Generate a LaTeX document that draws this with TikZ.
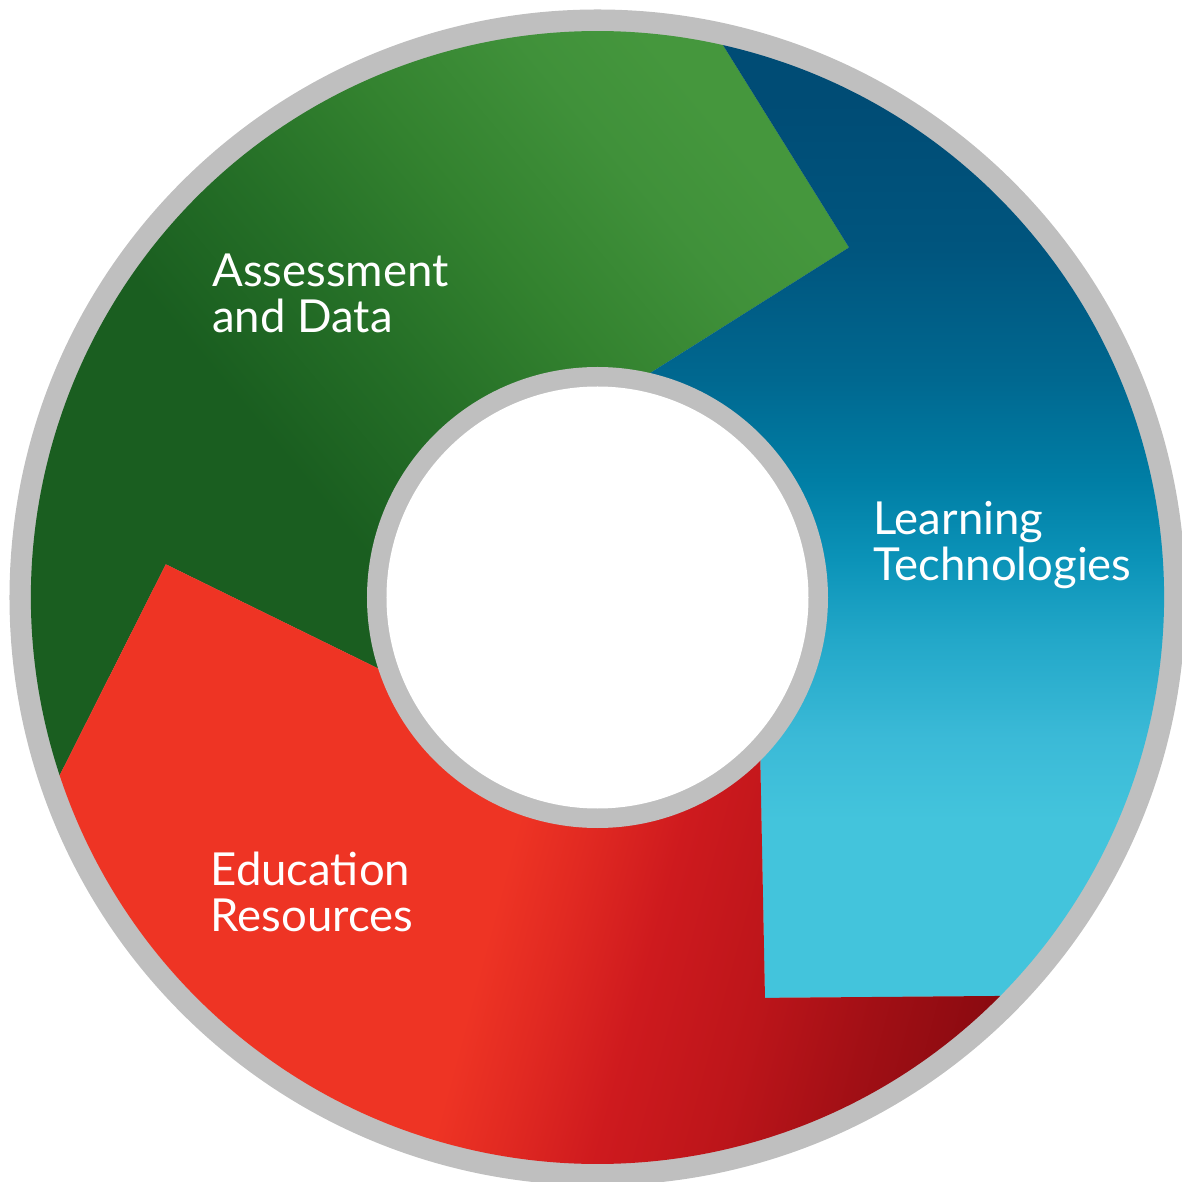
\documentclass[tikz,border=0pt]{standalone}
\usepackage{fontspec}
\setmainfont{Lato}

% palette
\definecolor{ringgray}{HTML}{BFBFBF}
\definecolor{gA}{HTML}{1A5E20}
\definecolor{gB}{HTML}{256F27}
\definecolor{gC}{HTML}{33822F}
\definecolor{gD}{HTML}{40913A}
\definecolor{gE}{HTML}{45973D}
\definecolor{bA}{HTML}{43C4DC}
\definecolor{bB}{HTML}{3BBAD7}
\definecolor{bC}{HTML}{23A8C9}
\definecolor{bD}{HTML}{0B93B8}
\definecolor{bE}{HTML}{007EA5}
\definecolor{bF}{HTML}{006890}
\definecolor{bG}{HTML}{00557E}
\definecolor{bH}{HTML}{004C75}
\definecolor{rA}{HTML}{EE3424}
\definecolor{rB}{HTML}{E22A22}
\definecolor{rC}{HTML}{CE1A1E}
\definecolor{rD}{HTML}{BC151A}
\definecolor{rE}{HTML}{A10F15}
\definecolor{rF}{HTML}{8A0A10}

% gradients (the 25bp..75bp band spans the 1200pt square they are painted on)
\pgfdeclarehorizontalshading{greenshade}{100bp}{color(0bp)=(gA); color(43.75bp)=(gA); color(50bp)=(gB); color(56.25bp)=(gC); color(62.5bp)=(gD); color(66.7bp)=(gE); color(100bp)=(gE)}
\pgfdeclareverticalshading{blueshade}{100bp}{color(0bp)=(bA); color(40.7bp)=(bA); color(44.1bp)=(bB); color(48.2bp)=(bC); color(51.6bp)=(bD); color(54.9bp)=(bE); color(59.1bp)=(bF); color(64.5bp)=(bG); color(70.7bp)=(bH); color(100bp)=(bH)}
\pgfdeclarehorizontalshading{redshade}{100bp}{color(0bp)=(rA); color(49.2bp)=(rA); color(52bp)=(rB); color(56bp)=(rC); color(60.9bp)=(rD); color(65.7bp)=(rE); color(70.5bp)=(rF); color(100bp)=(rF)}

% the three arrow-shaped bands of the ring
\newcommand{\greenband}{(198.3:566.5) arc[start angle=198.3, end angle=77.2, radius=566.5] -- (54.3:431) -- (77.2:229) arc[start angle=77.2, end angle=198.3, radius=229] -- (175.6:433) -- cycle}
\newcommand{\blueband}{(77.2:566.5) arc[start angle=77.2, end angle=-44.7, radius=566.5] -- (-67.3:434) -- (-44.7:229) arc[start angle=-44.7, end angle=77.2, radius=229] -- (54.3:431) -- cycle}
\newcommand{\redband}{(315.3:566.5) arc[start angle=315.3, end angle=198.3, radius=566.5] -- (175.6:433) -- (198.3:229) arc[start angle=198.3, end angle=315.3, radius=229] -- (-67.3:434) -- cycle}

\begin{document}
\begin{tikzpicture}[x=1pt, y=1pt,
  bandlabel/.style={font=\fontsize{45.5}{46}\selectfont, text=white, align=left, inner sep=0pt, anchor=base west}]
\useasboundingbox (-597.5,-584.5) rectangle (584.5,597.5);
\clip (-597.5,-584.5) rectangle (584.5,597.5);

% outer grey rim
\fill[ringgray] (0,0) circle[radius=588];

% coloured bands
\begin{scope}
  \clip \greenband;
  \shade[shading=greenshade, shading angle=40] (-600,-600) rectangle (600,600);
\end{scope}
\begin{scope}
  \clip \blueband;
  \shade[shading=blueshade] (-600,-600) rectangle (600,600);
\end{scope}
\begin{scope}
  \clip \redband;
  \shade[shading=redshade, shading angle=-15] (-600,-600) rectangle (600,600);
\end{scope}

% inner grey ring and hole
\fill[ringgray] (0,0) circle[radius=230.5];
\fill[white] (0,0) circle[radius=211];

% labels (anchored on the baseline of their last line)
\node[bandlabel] (assess) at (-385.5,264.5) {Assessment\\and Data};
\node[bandlabel] (learn) at (275.5,17) {Learning\\Technologies};
\node[bandlabel] (edu) at (-387,-333.5) {Education\\Resources};
\end{tikzpicture}
\end{document}
